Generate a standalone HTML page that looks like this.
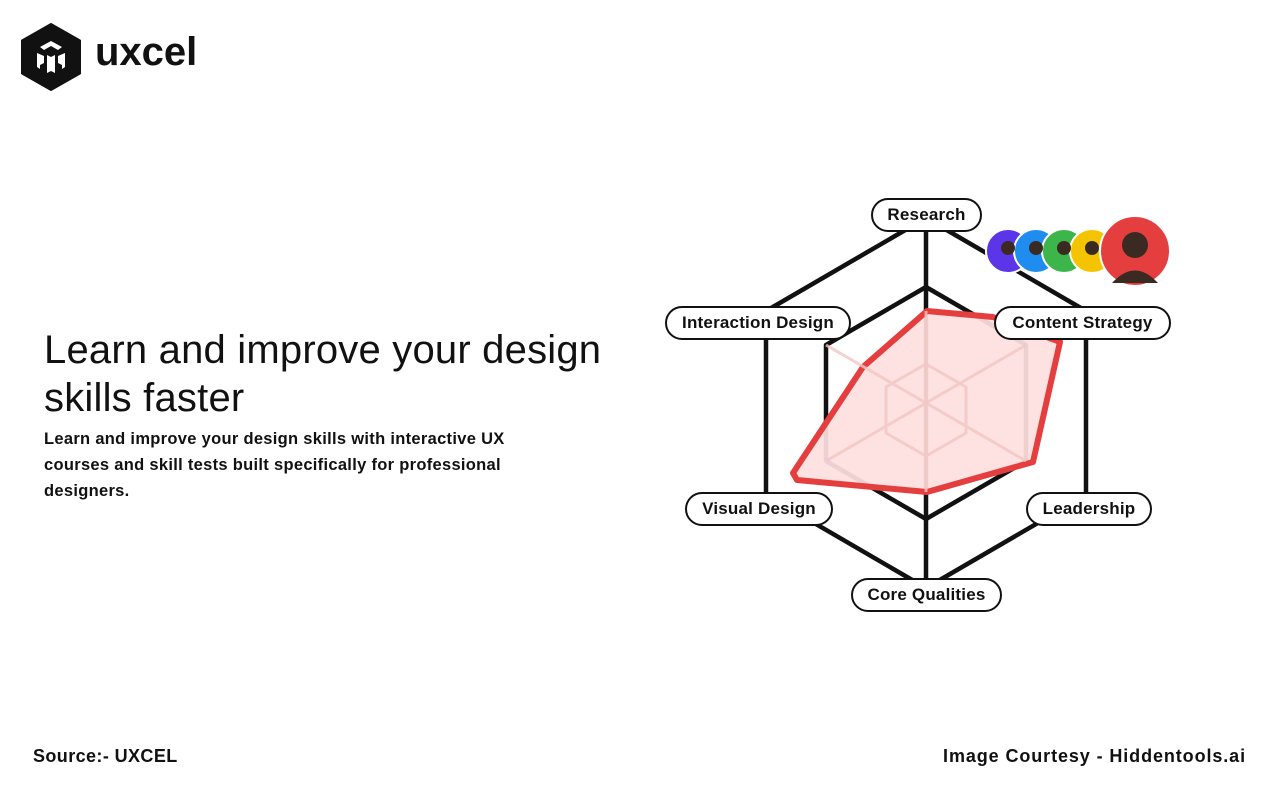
<!DOCTYPE html>
<html><head><style>
body{margin:0;width:1280px;height:800px;background:#fff;font-family:"Liberation Sans",sans-serif;position:relative;overflow:hidden;color:#111}
.abs{position:absolute}
h1{position:absolute;left:44px;top:326px;margin:0;font-weight:400;font-size:40px;line-height:48px;color:#111;letter-spacing:0.2px;white-space:nowrap}
.sub{left:44px;top:426px;font-size:16.5px;font-weight:bold;line-height:26px;width:485px;letter-spacing:0.3px}
.lbl{position:absolute;background:#fff;border:2.5px solid #111;border-radius:20px;height:32px;line-height:30px;font-size:17px;font-weight:bold;text-align:center;box-sizing:border-box;letter-spacing:0.2px;white-space:nowrap}
.ft{font-size:18px;font-weight:bold;letter-spacing:0.9px}
</style></head><body>
<svg class="abs" style="left:20px;top:23px" width="62" height="68" viewBox="0 0 62 68">
<polygon points="31,1 60,17.5 60,50.5 31,67 2,50.5 2,17.5" fill="#111" stroke="#111" stroke-width="2" stroke-linejoin="round"/>
<path d="M31 18 L42 24 L38 27 L31 23 L24 27 L20 24Z M17 30 L24 33 L24 40 L20 42 L20 46 L17 44Z M45 30 L38 33 L38 40 L42 42 L42 46 L45 44Z M27 32 L31 34 L35 32 L35 50 L31 48 L27 50Z" fill="#fff"/>
</svg>
<div class="abs" style="left:95px;top:30px;font-size:40px;font-weight:bold">uxcel</div>
<h1>Learn and improve your design<br>skills faster</h1>
<div class="abs sub">Learn and improve your design skills with interactive UX courses and skill tests built specifically for professional designers.</div>
<svg class="abs" style="left:0;top:0" width="1280" height="800">
<g stroke="#111" stroke-width="4.5" fill="none" stroke-linejoin="round">
<polygon points="926,218 1086,311 1086,495 926,588 766,495 766,311"/>
<polygon points="926,287 1026,345 1026,461 926,519 826,461 826,345"/>
<line x1="926" y1="218" x2="926" y2="588"/>
</g>
<polygon points="927,311 993,317 1060,342 1033,462 927,492 797,480 793,473 863,367" fill="#fde0df" fill-opacity="0.93" stroke="#e53e3e" stroke-width="6" stroke-linejoin="round"/>
<g stroke="#f3c6c4" stroke-width="3" fill="none" opacity="0.8">
<polygon points="926,364 966,387 966,433 926,456 886,433 886,387"/>
<line x1="926" y1="311" x2="926" y2="492"/><line x1="826" y1="345" x2="1026" y2="461"/><line x1="1026" y1="345" x2="826" y2="461"/>
</g>
<g stroke="#fff" stroke-width="2">
<circle cx="1008" cy="251" r="22" fill="#5b35e8"/>
<circle cx="1036" cy="251" r="22" fill="#1f8cf0"/>
<circle cx="1064" cy="251" r="22" fill="#3cb54a"/>
<circle cx="1092" cy="251" r="22" fill="#f5c400"/>
<circle cx="1135" cy="251" r="35" fill="#e53e3e"/>
</g>
<g fill="#3a2a22"><circle cx="1008" cy="248" r="7"/><circle cx="1036" cy="248" r="7"/><circle cx="1064" cy="248" r="7"/><circle cx="1092" cy="248" r="7"/><circle cx="1135" cy="245" r="13"/><path d="M1112 283 Q1135 258 1158 283Z"/></g>
</svg>
<div class="lbl" style="left:871px;top:198px;width:111px;height:34px">Research</div>
<div class="lbl" style="left:665px;top:306px;width:186px;height:34px">Interaction Design</div>
<div class="lbl" style="left:994px;top:306px;width:177px;height:34px">Content Strategy</div>
<div class="lbl" style="left:685px;top:492px;width:148px;height:34px">Visual Design</div>
<div class="lbl" style="left:1026px;top:492px;width:126px;height:34px">Leadership</div>
<div class="lbl" style="left:851px;top:578px;width:151px;height:34px">Core Qualities</div>
<div class="abs ft" style="left:33px;top:746px;letter-spacing:0.4px">Source:- UXCEL</div>
<div class="abs ft" style="right:34px;top:746px">Image Courtesy - Hiddentools.ai</div>
</body></html>
